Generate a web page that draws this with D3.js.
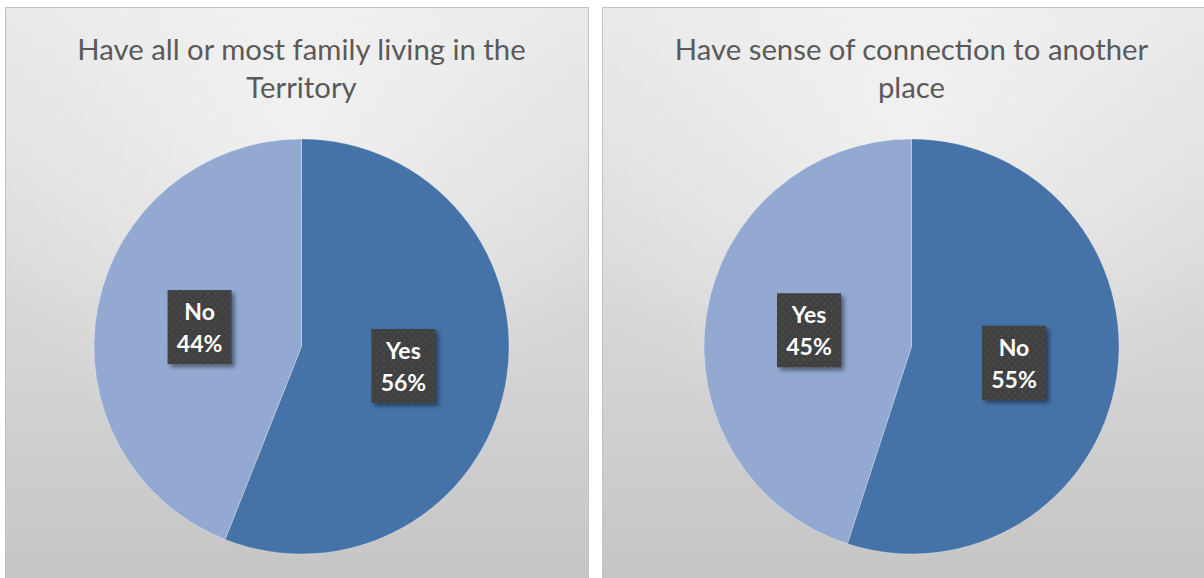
<!DOCTYPE html>
<html>
<head>
<meta charset="utf-8">
<script src="https://cdn.jsdelivr.net/npm/d3@7"></script>
<style>
  html, body { margin: 0; padding: 0; background: #ffffff; }
  svg { display: block; }
</style>
</head>
<body>
<svg id="chart" width="1204" height="578"></svg>
<script>
// Survey answers, one pie per question
const titlesA = ["Have all or most family living in the", "Territory"];
const titlesB = ["Have sense of connection to another", "place"];
const categoriesA = ["Yes", "No"];
const valuesA = [56, 44];
const categoriesB = ["No", "Yes"];
const valuesB = [55, 45];

const sliceColors = ["#4572a7", "#93a9d1"];

const svg = d3.select("#chart");
const defs = svg.append("defs");

// panel fill: light at the top, greying towards the bottom
const lin = defs.append("linearGradient").attr("id", "panelFill")
  .attr("x1", 0).attr("y1", 0).attr("x2", 0).attr("y2", 1);
lin.append("stop").attr("offset", "0%").attr("stop-color", "#e9e9e9");
lin.append("stop").attr("offset", "45%").attr("stop-color", "#dadada");
lin.append("stop").attr("offset", "100%").attr("stop-color", "#c5c5c5");

const glow = defs.append("radialGradient").attr("id", "panelGlow")
  .attr("cx", "50%").attr("cy", "20%").attr("r", "60%");
glow.append("stop").attr("offset", "0%").attr("stop-color", "#ffffff").attr("stop-opacity", 0.5);
glow.append("stop").attr("offset", "100%").attr("stop-color", "#ffffff").attr("stop-opacity", 0);

// dotted texture for the label boxes
const pat = defs.append("pattern").attr("id", "dots")
  .attr("patternUnits", "userSpaceOnUse").attr("width", 7).attr("height", 7);
pat.append("rect").attr("width", 7).attr("height", 7).attr("fill", "#3f3f3f");
pat.append("circle").attr("cx", 1.5).attr("cy", 1.5).attr("r", 0.9).attr("fill", "#575757");
pat.append("circle").attr("cx", 5).attr("cy", 5).attr("r", 0.9).attr("fill", "#4f4f4f");

const shadow = defs.append("filter").attr("id", "boxShadow")
  .attr("x", "-30%").attr("y", "-30%").attr("width", "170%").attr("height", "170%");
shadow.append("feDropShadow").attr("dx", 3).attr("dy", 3).attr("stdDeviation", 2.2)
  .attr("flood-color", "#000").attr("flood-opacity", 0.45);

const panels = [
  { x: 5, y: 7, w: 583, h: 580, cx: 301.5, titles: titlesA, cats: categoriesA, vals: valuesA },
  { x: 602, y: 7, w: 610, h: 580, cx: 911.5, titles: titlesB, cats: categoriesB, vals: valuesB }
];

const radius = 207.5;
const cy = 346.5;

const pie = d3.pie().sort(null).value(d => d.v);
const arc = d3.arc().innerRadius(0).outerRadius(radius);

panels.forEach(p => {
  const g = svg.append("g");
  g.append("rect").attr("x", p.x + 0.5).attr("y", p.y + 0.5)
    .attr("width", p.w).attr("height", p.h)
    .attr("fill", "url(#panelFill)").attr("stroke", "#c2c2c2").attr("stroke-width", 1);
  g.append("rect").attr("x", p.x + 1).attr("y", p.y + 1)
    .attr("width", p.w - 1).attr("height", p.h - 1)
    .attr("fill", "url(#panelGlow)");

  // title
  const t = g.append("text")
    .attr("x", p.cx).attr("text-anchor", "middle")
    .attr("font-family", "Lato, 'Open Sans', sans-serif")
    .attr("font-weight", 400)
    .attr("font-size", 29.3).attr("fill", "#5a5a5a");
  p.titles.forEach((line, i) => {
    t.append("tspan").attr("x", p.cx).attr("y", 60 + i * 37.5).text(line);
  });

  const data = p.cats.map((c, i) => ({ c, v: p.vals[i], color: sliceColors[i] }));
  const arcs = pie(data);
  const pg = g.append("g").attr("transform", `translate(${p.cx},${cy})`);
  pg.selectAll("path").data(arcs).join("path")
    .attr("d", arc)
    .attr("fill", d => d.data.color)
    .attr("stroke", "#ffffff").attr("stroke-opacity", 0.35).attr("stroke-width", 0.8);

  // data labels: category and percentage in a dark box at the slice centroid
  const bw = 64, bh = 74;
  const lab = pg.selectAll("g.lab").data(arcs).join("g").attr("class", "lab")
    .attr("transform", d => { const c = arc.centroid(d); return `translate(${c[0]},${c[1]})`; });
  lab.append("rect").attr("x", -bw / 2).attr("y", -bh / 2).attr("width", bw).attr("height", bh)
    .attr("fill", "url(#dots)").attr("filter", "url(#boxShadow)");
  lab.append("text").attr("text-anchor", "middle").attr("y", -7)
    .attr("font-family", "Lato, 'Open Sans', sans-serif").attr("font-weight", 700)
    .attr("font-size", 23).attr("fill", "#ffffff").text(d => d.data.c);
  lab.append("text").attr("text-anchor", "middle").attr("y", 25)
    .attr("font-family", "Lato, 'Open Sans', sans-serif").attr("font-weight", 700)
    .attr("font-size", 23).attr("fill", "#ffffff").text(d => d.data.v + "%");
});
</script>
</body>
</html>
